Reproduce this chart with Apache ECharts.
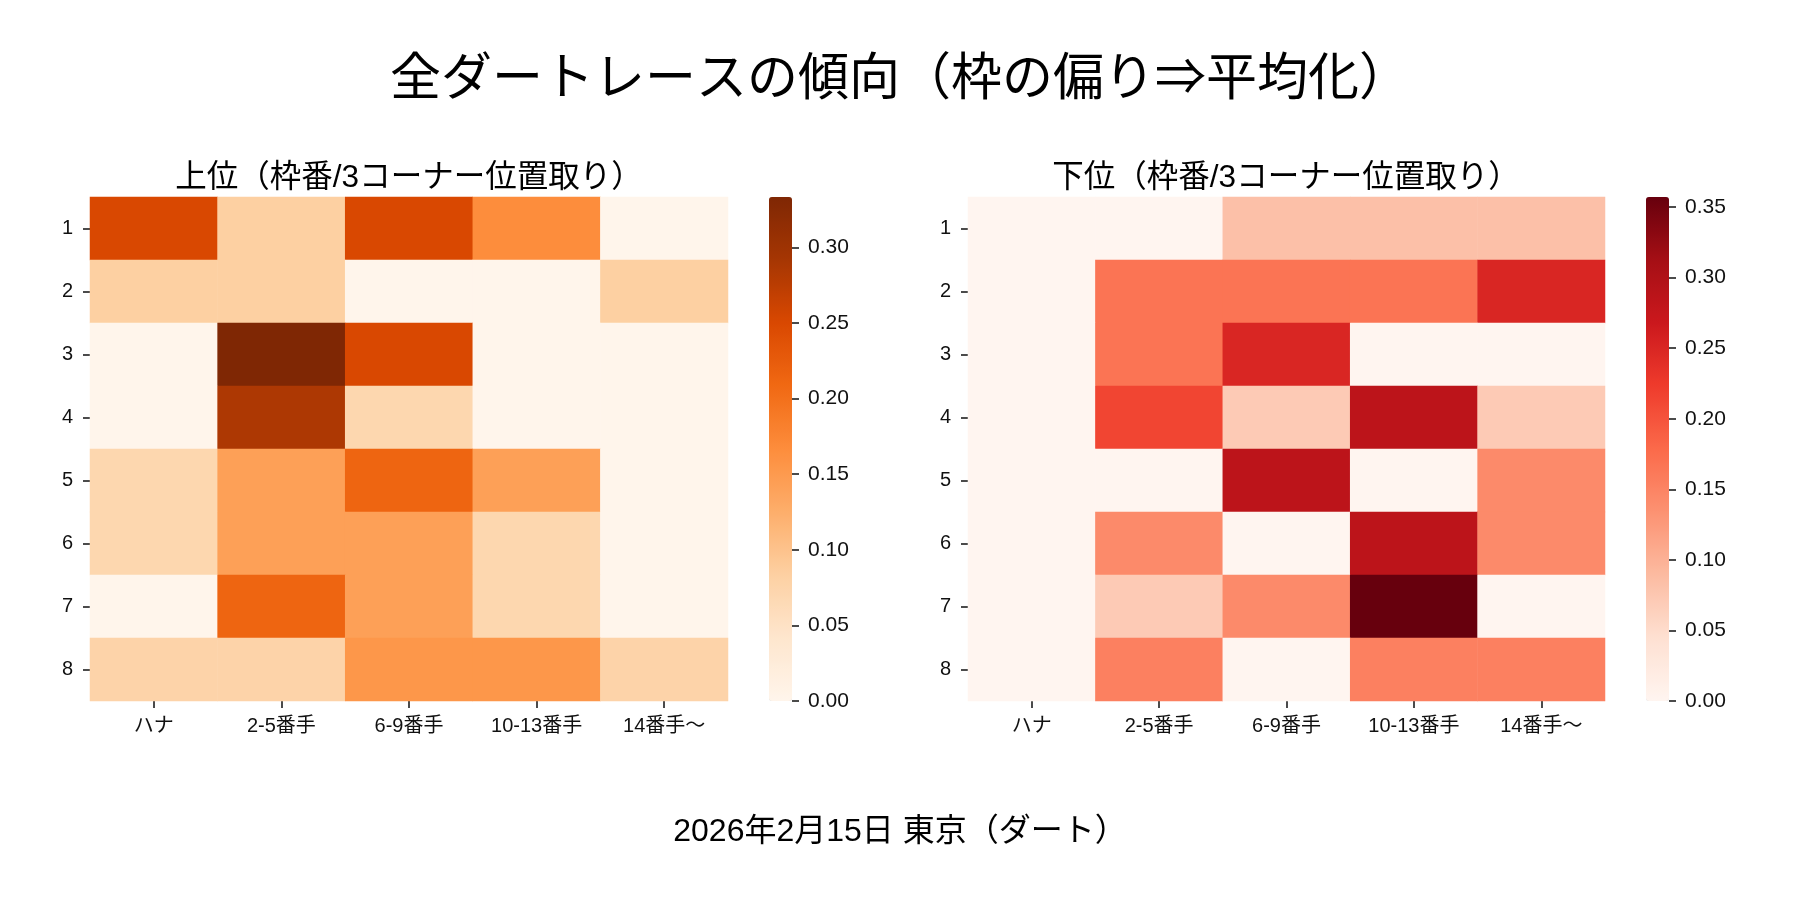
<!DOCTYPE html>
<html>
<head>
<meta charset="utf-8">
<script src="https://cdn.jsdelivr.net/npm/echarts@6/dist/echarts.min.js"></script>
<style>
html,body{margin:0;padding:0;background:#fff;}
#main{width:1800px;height:900px;}
</style>
</head>
<body>
<div id="main"></div>
<script>
// categories
var positions = ['ハナ', '2-5番手', '6-9番手', '10-13番手', '14番手〜'];
var frames = ['1', '2', '3', '4', '5', '6', '7', '8'];

// 上位 (rows = 枠番 1..8, cols = positions)
var upper = [
	[0.25, 0.083, 0.25, 0.167, 0],
	[0.083, 0.083, 0, 0, 0.083],
	[0, 0.333, 0.25, 0, 0],
	[0, 0.286, 0.071, 0, 0],
	[0.071, 0.143, 0.214, 0.143, 0],
	[0.071, 0.143, 0.143, 0.071, 0],
	[0, 0.214, 0.143, 0.071, 0],
	[0.077, 0.077, 0.154, 0.154, 0.077]
];

// 下位
var lower = [
	[0, 0, 0.083, 0.083, 0.083],
	[0, 0.167, 0.167, 0.167, 0.25],
	[0, 0.167, 0.25, 0, 0],
	[0, 0.214, 0.071, 0.286, 0.071],
	[0, 0, 0.286, 0, 0.143],
	[0, 0.143, 0, 0.286, 0.143],
	[0, 0.071, 0.143, 0.357, 0],
	[0, 0.154, 0, 0.154, 0.154]
];

var upperMax = 1 / 3;
var lowerMax = 5 / 14;
var upperTicks = [0, 0.05, 0.10, 0.15, 0.20, 0.25, 0.30];
var lowerTicks = [0, 0.05, 0.10, 0.15, 0.20, 0.25, 0.30, 0.35];

var oranges = ['#fff5eb', '#fee6ce', '#fdd0a2', '#fdae6b', '#fd8d3c', '#f16913', '#d94801', '#a63603', '#7f2704'];
var reds = ['#fff5f0', '#fee0d2', '#fcbba1', '#fc9272', '#fb6a4a', '#ef3b2c', '#cb181d', '#a50f15', '#67000d'];

var FONT = '"Liberation Sans", "Noto Sans CJK JP", sans-serif';

function toCells(matrix){
	var out = [];
	matrix.forEach(function(row, y){
		row.forEach(function(v, x){
			out.push([x, y, v]);
		});
	});
	return out;
}

function catX(gridIndex){
	return {
		type: 'category', gridIndex: gridIndex, data: positions, position: 'bottom',
		axisLine: {show: false},
		axisTick: {show: true, alignWithLabel: true, length: 7, lineStyle: {color: '#111', width: 1.5}},
		axisLabel: {color: '#111', fontSize: 20, fontFamily: FONT, margin: 15},
		splitLine: {show: false}
	};
}
function catY(gridIndex){
	return {
		type: 'category', gridIndex: gridIndex, data: frames, inverse: true,
		axisLine: {show: false},
		axisTick: {show: true, alignWithLabel: true, length: 7, lineStyle: {color: '#111', width: 1.5}},
		axisLabel: {color: '#111', fontSize: 20, fontFamily: FONT, margin: 17},
		splitLine: {show: false}
	};
}
function barX(gridIndex){
	return {type: 'value', gridIndex: gridIndex, show: false};
}
function barY(gridIndex, max, ticks){
	return {
		type: 'value', gridIndex: gridIndex, min: 0, max: max, position: 'right', z: 10,
		axisLine: {show: false, onZero: false},
		axisTick: {show: true, inside: false, length: 7, customValues: ticks, lineStyle: {color: '#111', width: 1.5}},
		axisLabel: {
			color: '#111', fontSize: 21, fontFamily: FONT, margin: 16, customValues: ticks,
			formatter: function(v){ return v.toFixed(2); }
		},
		splitLine: {show: false}
	};
}

var chart = echarts.init(document.getElementById('main'));
var option = {
	backgroundColor: '#fff',
	animation: false,
	title: [
		{text: '全ダートレースの傾向（枠の偏り⇒平均化）', left: 900, top: 55, textAlign: 'center', padding: 0,
			textStyle: {fontSize: 51, fontWeight: 'normal', color: '#000', fontFamily: FONT, lineHeight: 51}},
		{text: '上位（枠番/3コーナー位置取り）', left: 409, top: 162, textAlign: 'center', padding: 0,
			textStyle: {fontSize: 31.5, fontWeight: 'normal', color: '#000', fontFamily: FONT, lineHeight: 32}},
		{text: '下位（枠番/3コーナー位置取り）', left: 1286, top: 162, textAlign: 'center', padding: 0,
			textStyle: {fontSize: 31.5, fontWeight: 'normal', color: '#000', fontFamily: FONT, lineHeight: 32}},
		{text: '2026年2月15日 東京（ダート）', left: 900, top: 816, textAlign: 'center', padding: 0,
			textStyle: {fontSize: 32, fontWeight: 'normal', color: '#000', fontFamily: FONT, lineHeight: 32}}
	],
	grid: [
		{left: 90, top: 197, width: 638, height: 504},
		{left: 968, top: 197, width: 637, height: 504},
		{left: 769, top: 197, width: 23, height: 504},
		{left: 1646, top: 197, width: 23, height: 504}
	],
	xAxis: [catX(0), catX(1), barX(2), barX(3)],
	yAxis: [catY(0), catY(1), barY(2, upperMax, upperTicks), barY(3, lowerMax, lowerTicks)],
	visualMap: [
		{type: 'continuous', seriesIndex: 0, min: 0, max: upperMax, calculable: false, realtime: false, z: 1,
			left: 769, top: 197, itemWidth: 23, itemHeight: 504, padding: 0, text: null, hoverLink: false,
			inRange: {color: oranges}},
		{type: 'continuous', seriesIndex: 1, min: 0, max: lowerMax, calculable: false, realtime: false, z: 1,
			left: 1646, top: 197, itemWidth: 23, itemHeight: 504, padding: 0, text: null, hoverLink: false,
			inRange: {color: reds}}
	],
	series: [
		{type: 'heatmap', xAxisIndex: 0, yAxisIndex: 0, data: toCells(upper), itemStyle: {borderWidth: 0}},
		{type: 'heatmap', xAxisIndex: 1, yAxisIndex: 1, data: toCells(lower), itemStyle: {borderWidth: 0}}
	]
};
chart.setOption(option);
</script>
</body>
</html>
